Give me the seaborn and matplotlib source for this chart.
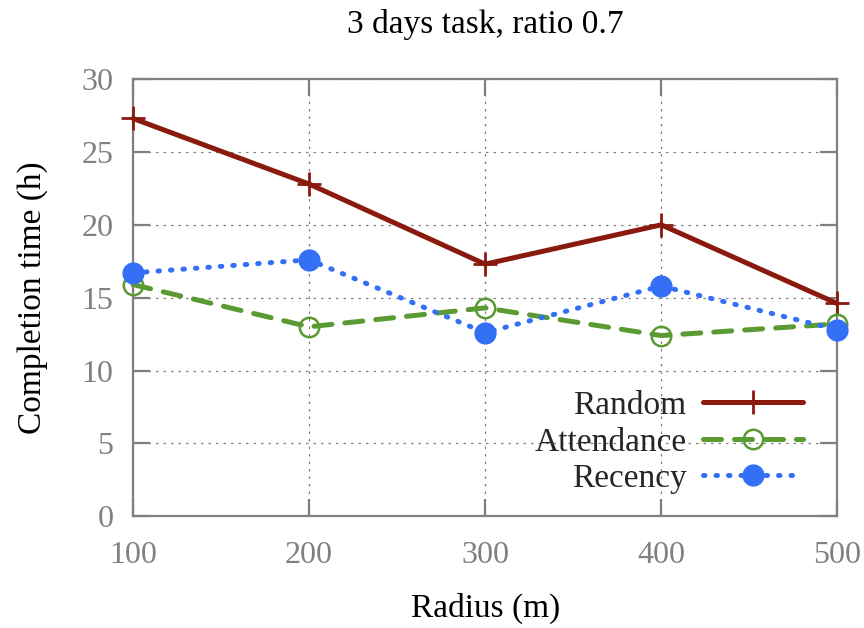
import matplotlib
matplotlib.use("Agg")
import matplotlib.pyplot as plt
import seaborn as sns
import pandas as pd

radius = [100, 200, 300, 400, 500]
random_time = [27.3, 22.8, 17.3, 20.0, 14.6]
attendance_time = [15.9, 13.0, 14.3, 12.4, 13.2]
recency_time = [16.7, 17.6, 12.6, 15.8, 12.8]
series_names = ["Random", "Attendance", "Recency"]
x_ticks = [100, 200, 300, 400, 500]
y_ticks = [0, 5, 10, 15, 20, 25, 30]

sns.set_theme(style="white")
plt.rcParams["font.family"] = ["Liberation Serif", "DejaVu Serif"]

df = pd.DataFrame({
    "radius": radius * 3,
    "time": random_time + attendance_time + recency_time,
    "method": [series_names[0]] * 5 + [series_names[1]] * 5 + [series_names[2]] * 5,
})

fig = plt.figure(figsize=(8.64, 6.28), dpi=100)
ax = fig.add_axes([0.154, 0.178, 0.815, 0.696])

gray = "#808080"
styles = {
    "Random": dict(color="#8b1a0e", marker="+", markersize=17, markeredgewidth=2,
                   markeredgecolor="#8b1a0e", linestyle="-", lw=3.6),
    "Attendance": dict(color="#5a9a32", marker="o", markersize=14, markeredgewidth=1.8,
                       markeredgecolor="#5a9a32", markerfacecolor="none",
                       linestyle=(0, (3.6, 2.6)), lw=3.6, dash_capstyle="round"),
    "Recency": dict(color="#3470f6", marker="o", markersize=16, markeredgewidth=0,
                    markeredgecolor="#3470f6", linestyle=(0, (0.3, 2.2)), lw=3.6,
                    dash_capstyle="round"),
}

for name in series_names:
    sub = df[df["method"] == name]
    sns.lineplot(data=sub, x="radius", y="time", ax=ax, label=name,
                 clip_on=False, zorder=3, **styles[name])

ax.set_xlim(100, 500)
ax.set_ylim(0, 30)
ax.set_xticks(x_ticks)
ax.set_yticks(y_ticks)
ax.grid(True, color=gray, linestyle=(0, (2, 4)), lw=0.9)
for sp in ax.spines.values():
    sp.set_color(gray)
    sp.set_linewidth(1.6)
ax.tick_params(axis="both", which="both", direction="in", length=12, width=1.6,
               color=gray, labelcolor=gray, labelsize=23, top=True, right=True,
               bottom=True, left=True)
ax.tick_params(axis="x", pad=18)
ax.tick_params(axis="y", pad=14)

ax.set_title("3 days task, ratio 0.7", fontsize=24, pad=33, color="black")
ax.set_xlabel("Radius (m)", fontsize=24, labelpad=16, color="black")
ax.set_ylabel("Completion time (h)", fontsize=24, labelpad=24, color="black")

leg = ax.legend(loc="lower right", bbox_to_anchor=(0.98, 0.005), frameon=False,
                markerfirst=False, fontsize=24, handlelength=3.0, handletextpad=0.5,
                labelspacing=0.18, borderaxespad=0.2)

fig.savefig("out.png", dpi=100)
